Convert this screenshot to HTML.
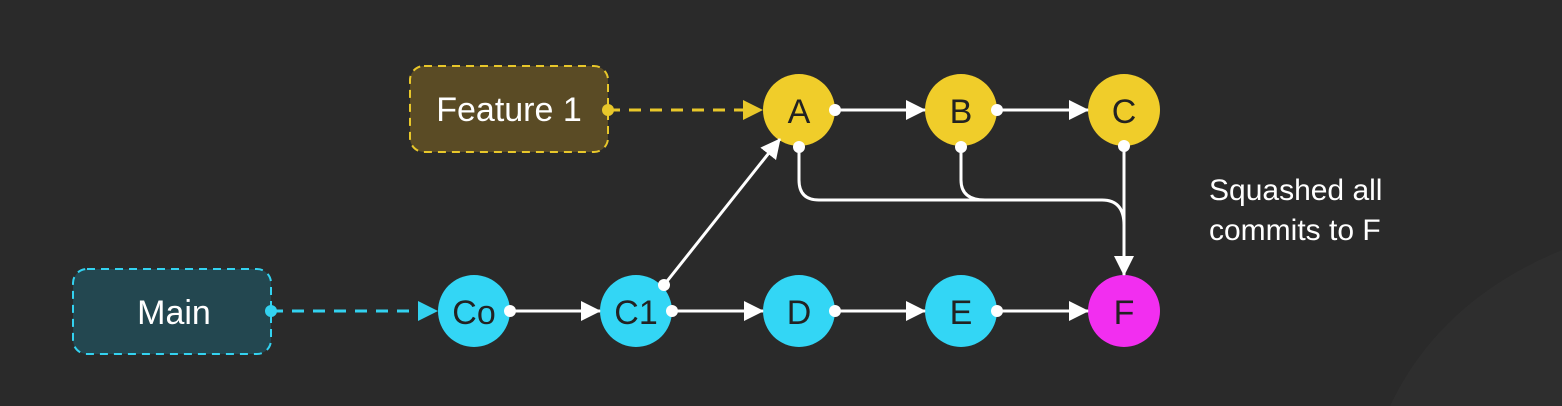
<!DOCTYPE html>
<html><head><meta charset="utf-8"><style>
html,body{margin:0;padding:0;background:#2a2a2a;}
svg{display:block}
</style></head><body>
<svg width="1562" height="406" viewBox="0 0 1562 406" xmlns="http://www.w3.org/2000/svg">
<rect width="1562" height="406" fill="#2a2a2a"/>
<path d="M1390 406 Q1440 300 1562 250 L1562 406 Z" fill="#2e2e2e"/>
<defs>
<marker id="aw" markerWidth="20" markerHeight="20" refX="19" refY="10" orient="auto" markerUnits="userSpaceOnUse" viewBox="0 0 20 20"><path d="M0 0 L20 10 L0 20 Z" fill="#fff"/></marker>
</defs>
<!-- boxes -->
<rect x="410" y="66" width="198" height="86" rx="14" fill="#5a4b25" stroke="#e8c72a" stroke-width="2" stroke-dasharray="8 6"/>
<text x="509" y="121" font-family="Liberation Sans, sans-serif" font-size="34" fill="#fff" text-anchor="middle">Feature 1</text>
<rect x="73" y="269" width="198" height="85" rx="14" fill="#234750" stroke="#33d2f0" stroke-width="2" stroke-dasharray="8 6"/>
<text x="174" y="324" font-family="Liberation Sans, sans-serif" font-size="34" fill="#fff" text-anchor="middle">Main</text>
<!-- dashed connectors -->
<line x1="608" y1="110" x2="745" y2="110" stroke="#e8c72a" stroke-width="3" stroke-dasharray="12 9"/>
<path d="M743 100 L763 110 L743 120 Z" fill="#e8c72a"/>
<circle cx="608" cy="110" r="6" fill="#e8c72a"/>
<line x1="271" y1="311" x2="420" y2="311" stroke="#33d2f0" stroke-width="3" stroke-dasharray="12 9"/>
<path d="M418 301 L438 311 L418 321 Z" fill="#33d2f0"/>
<circle cx="271" cy="311" r="6" fill="#33d2f0"/>
<!-- nodes -->
<g font-family="Liberation Sans, sans-serif" font-size="34" fill="#222" text-anchor="middle">
<circle cx="799" cy="110" r="36" fill="#f0cd2a"/><text x="799" y="123">A</text>
<circle cx="961" cy="110" r="36" fill="#f0cd2a"/><text x="961" y="123">B</text>
<circle cx="1124" cy="110" r="36" fill="#f0cd2a"/><text x="1124" y="123">C</text>
<circle cx="474" cy="311" r="36" fill="#33d6f5"/><text x="474" y="324">Co</text>
<circle cx="636" cy="311" r="36" fill="#33d6f5"/><text x="636" y="324">C1</text>
<circle cx="799" cy="311" r="36" fill="#33d6f5"/><text x="799" y="324">D</text>
<circle cx="961" cy="311" r="36" fill="#33d6f5"/><text x="961" y="324">E</text>
<circle cx="1124" cy="311" r="36" fill="#f22ef0"/><text x="1124" y="324">F</text>
</g>
<!-- white connectors -->
<g stroke="#fff" stroke-width="3" fill="none">
<line x1="835" y1="110" x2="925" y2="110" marker-end="url(#aw)"/>
<line x1="997" y1="110" x2="1088" y2="110" marker-end="url(#aw)"/>
<line x1="510" y1="311" x2="600" y2="311" marker-end="url(#aw)"/>
<line x1="672" y1="311" x2="763" y2="311" marker-end="url(#aw)"/>
<line x1="835" y1="311" x2="925" y2="311" marker-end="url(#aw)"/>
<line x1="997" y1="311" x2="1088" y2="311" marker-end="url(#aw)"/>
<line x1="664" y1="285" x2="780" y2="139" marker-end="url(#aw)"/>
<line x1="1124" y1="146" x2="1124" y2="275" marker-end="url(#aw)"/>
<path d="M799 147 L799 180 Q799 200 819 200 L1102 200 Q1124 200 1124 225"/>
<path d="M961 147 L961 180 Q961 200 985 200"/>
</g>
<g fill="#fff">
<circle cx="835" cy="110" r="6"/><circle cx="997" cy="110" r="6"/>
<circle cx="799" cy="147" r="6"/><circle cx="961" cy="147" r="6"/><circle cx="1124" cy="146" r="6"/>
<circle cx="510" cy="311" r="6"/><circle cx="672" cy="311" r="6"/><circle cx="835" cy="311" r="6"/><circle cx="997" cy="311" r="6"/>
<circle cx="664" cy="285" r="6"/>
</g>
<text font-family="Liberation Sans, sans-serif" font-size="30" fill="#fff"><tspan x="1209" y="200">Squashed all</tspan><tspan x="1209" y="240">commits to F</tspan></text>
</svg>
</body></html>
